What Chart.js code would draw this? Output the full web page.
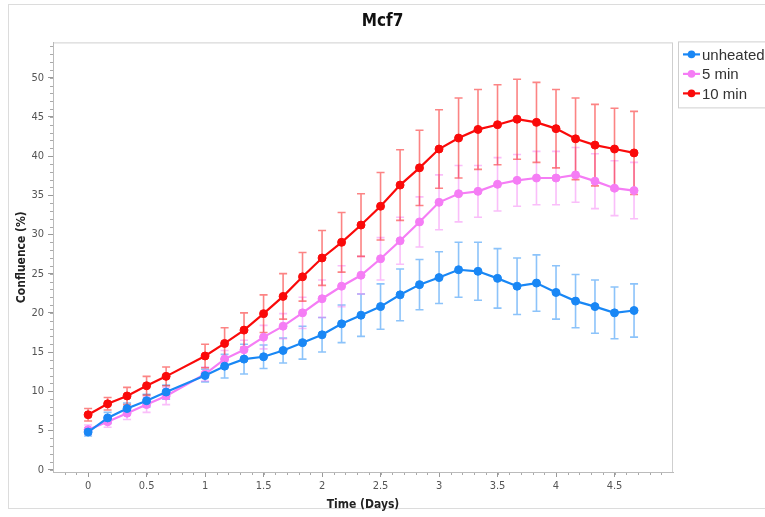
<!DOCTYPE html>
<html>
<head>
<meta charset="utf-8">
<script src="https://cdn.jsdelivr.net/npm/chart.js@4.4.1/dist/chart.umd.min.js"></script>
<style>
  html, body { margin: 0; padding: 0; background: #fff; }
</style>
</head>
<body>
<canvas id="mcf7" width="765" height="517"></canvas>
<script>
// time points (days), every 4 hours, the 20 h point is missing
const days = [0, 0.167, 0.333, 0.5, 0.667, 1.0, 1.167, 1.333, 1.5, 1.667, 1.833, 2.0, 2.167, 2.333,
  2.5, 2.667, 2.833, 3.0, 3.167, 3.333, 3.5, 3.667, 3.833, 4.0, 4.167, 4.333, 4.5, 4.667]

const unheated = [4.8, 6.6, 7.8, 8.8, 9.9, 12.0, 13.2, 14.1, 14.4, 15.2, 16.2, 17.2, 18.6, 19.7,
  20.8, 22.3, 23.6, 24.5, 25.5, 25.3, 24.4, 23.4, 23.8, 22.6, 21.5, 20.8, 20.0, 20.3]
const unheatedErr = [0.5, 0.7, 0.7, 0.8, 0.9, 0.8, 1.5, 1.9, 1.5, 1.6, 2.1, 2.2, 2.4, 2.7,
  2.9, 3.3, 3.2, 3.3, 3.5, 3.7, 3.8, 3.6, 3.6, 3.4, 3.4, 3.4, 3.3, 3.4]

const min5 = [5.1, 6.1, 7.2, 8.3, 9.4, 12.2, 14.1, 15.3, 16.9, 18.3, 20.0, 21.8, 23.4, 24.8,
  26.9, 29.2, 31.6, 34.1, 35.2, 35.5, 36.4, 36.9, 37.2, 37.2, 37.6, 36.8, 35.9, 35.6]
const min5Err = [0.6, 0.7, 0.8, 1.0, 1.1, 0.9, 1.1, 1.2, 1.5, 1.6, 2.0, 2.4, 2.6, 2.4,
  2.7, 3.0, 3.2, 3.5, 3.6, 3.3, 3.4, 3.3, 3.4, 3.4, 3.5, 3.5, 3.5, 3.6]

const min10 = [7.0, 8.4, 9.4, 10.7, 11.9, 14.5, 16.1, 17.8, 19.9, 22.1, 24.6, 27.0, 29.0, 31.2,
  33.6, 36.3, 38.5, 40.9, 42.3, 43.4, 44.0, 44.7, 44.3, 43.5, 42.2, 41.4, 40.9, 40.4]
const min10Err = [0.8, 0.8, 1.1, 1.2, 1.2, 1.5, 2.0, 2.2, 2.4, 2.9, 3.1, 3.5, 3.8, 4.0,
  4.3, 4.5, 4.8, 5.0, 5.1, 5.1, 5.1, 5.1, 5.1, 5.0, 5.2, 5.2, 5.2, 5.3]

const xTicks = [0, 0.5, 1, 1.5, 2, 2.5, 3, 3.5, 4, 4.5]
const yTicks = [0, 5, 10, 15, 20, 25, 30, 35, 40, 45, 50]

const narrow = "'Liberation Sans Narrow', 'Arial Narrow', 'DejaVu Sans Condensed', sans-serif"
const sans = "'Liberation Sans', Arial, sans-serif"

const series = [
  { label: 'unheated', data: unheated, err: unheatedErr, color: 'rgb(25,135,245)', light: 'rgba(25,135,245,0.5)' },
  { label: '5 min', data: min5, err: min5Err, color: 'rgb(245,125,245)', light: 'rgba(245,125,245,0.5)' },
  { label: '10 min', data: min10, err: min10Err, color: 'rgb(250,10,10)', light: 'rgba(250,10,10,0.5)' }
]

// error bars, drawn under the lines
const errorBars = {
  id: 'errorBars',
  beforeDatasetsDraw(chart) {
    const { ctx, scales: { x, y } } = chart
    ctx.save()
    ctx.lineWidth = 1.6
    series.forEach(s => {
      ctx.strokeStyle = s.light
      s.data.forEach((v, i) => {
        const px = x.getPixelForValue(days[i])
        const top = y.getPixelForValue(v + s.err[i])
        const bot = y.getPixelForValue(v - s.err[i])
        ctx.beginPath()
        ctx.moveTo(px, top); ctx.lineTo(px, bot)
        ctx.moveTo(px - 4, top); ctx.lineTo(px + 4, top)
        ctx.moveTo(px - 4, bot); ctx.lineTo(px + 4, bot)
        ctx.stroke()
      })
    })
    ctx.restore()
  }
}

// frames, minor ticks and the boxed legend
const decor = {
  id: 'decor',
  beforeDraw(chart) {
    const { ctx, chartArea: a, scales: { x, y } } = chart
    ctx.save()
    ctx.strokeStyle = '#dcdcdc'
    ctx.lineWidth = 1
    ctx.strokeRect(8.5, 4.5, 800, 504)
    ctx.strokeStyle = '#cfcfcf'
    ctx.strokeRect(a.left + 0.5, a.top + 0.5, a.width - 1, a.height)
    // minor ticks
    ctx.strokeStyle = '#aaa'
    ctx.beginPath()
    for (let k = -2; k <= 50; k++) {
      const px = Math.round(x.getPixelForValue(k / 10)) + 0.5
      if (px < a.left || px > a.right) continue
      ctx.moveTo(px, a.bottom); ctx.lineTo(px, a.bottom + 3)
    }
    for (let k = 0; k <= 54; k++) {
      const py = Math.round(y.getPixelForValue(k)) + 0.5
      ctx.moveTo(a.left, py); ctx.lineTo(a.left - 3, py)
    }
    ctx.stroke()
    ctx.restore()
  },
  afterDraw(chart) {
    const { ctx, chartArea: a } = chart
    const lx = a.right + 5, ly = a.top - 1
    ctx.save()
    ctx.strokeStyle = '#cfcfcf'
    ctx.lineWidth = 1
    ctx.strokeRect(lx + 0.5, ly + 0.5, 100, 66)
    ctx.font = '15px ' + sans
    ctx.textBaseline = 'middle'
    series.forEach((s, i) => {
      const ry = ly + 13 + i * 19.5
      ctx.strokeStyle = s.color
      ctx.lineWidth = 2.2
      ctx.beginPath()
      ctx.moveTo(lx + 5, ry); ctx.lineTo(lx + 22, ry)
      ctx.stroke()
      ctx.fillStyle = s.color
      ctx.beginPath()
      ctx.arc(lx + 13.5, ry, 3.8, 0, Math.PI * 2)
      ctx.fill()
      ctx.fillStyle = '#333'
      ctx.fillText(s.label, lx + 24, ry + 1)
    })
    ctx.restore()
  }
}

new Chart(document.getElementById('mcf7'), {
  type: 'line',
  data: {
    datasets: series.map(s => ({
      label: s.label,
      data: s.data.map((v, i) => ({ x: days[i], y: v })),
      borderColor: s.color,
      backgroundColor: s.color,
      pointBackgroundColor: s.color,
      pointBorderColor: s.color,
      pointRadius: 4,
      pointBorderWidth: 1,
      borderWidth: 2.2,
      tension: 0
    }))
  },
  options: {
    responsive: false,
    animation: false,
    layout: { padding: 0 },
    plugins: {
      legend: { display: false },
      tooltip: { enabled: false },
      title: {
        display: true,
        text: 'Mcf7',
        color: '#111',
        font: { family: narrow, size: 17, weight: 'bold' },
        padding: { top: 11, bottom: 11 }
      }
    },
    scales: {
      x: {
        type: 'linear',
        min: -0.3,
        max: 5.0,
        afterBuildTicks: s => { s.ticks = xTicks.map(v => ({ value: v })) },
        afterFit: s => { s.height = 45 },
        grid: { drawOnChartArea: false, tickLength: 5, tickColor: '#999' },
        border: { color: '#bbb' },
        ticks: {
          color: '#555',
          font: { family: narrow, size: 11 },
          padding: 3,
          maxRotation: 0,
          autoSkip: false,
          callback: v => String(v)
        },
        title: {
          display: true,
          text: 'Time (Days)',
          color: '#222',
          font: { family: narrow, size: 12, weight: 'bold' },
          padding: { top: 0, bottom: 5 }
        }
      },
      y: {
        min: -0.3,
        max: 54.5,
        afterBuildTicks: s => { s.ticks = yTicks.map(v => ({ value: v })) },
        afterFit: s => { s.width = 53 },
        grid: { drawOnChartArea: false, tickLength: 5, tickColor: '#999' },
        border: { color: '#bbb' },
        ticks: {
          color: '#555',
          font: { family: narrow, size: 11 },
          padding: 4,
          callback: v => String(v)
        },
        title: {
          display: true,
          text: 'Confluence (%)',
          color: '#222',
          font: { family: narrow, size: 12, weight: 'bold' },
          padding: { top: 15, bottom: 0 }
        }
      },
      // keeps room on the right for the legend box
      side: {
        position: 'right',
        display: true,
        grid: { display: false },
        border: { display: false },
        ticks: { display: false },
        afterFit: s => { s.width = 92 }
      }
    }
  },
  plugins: [errorBars, decor]
})
</script>
</body>
</html>
